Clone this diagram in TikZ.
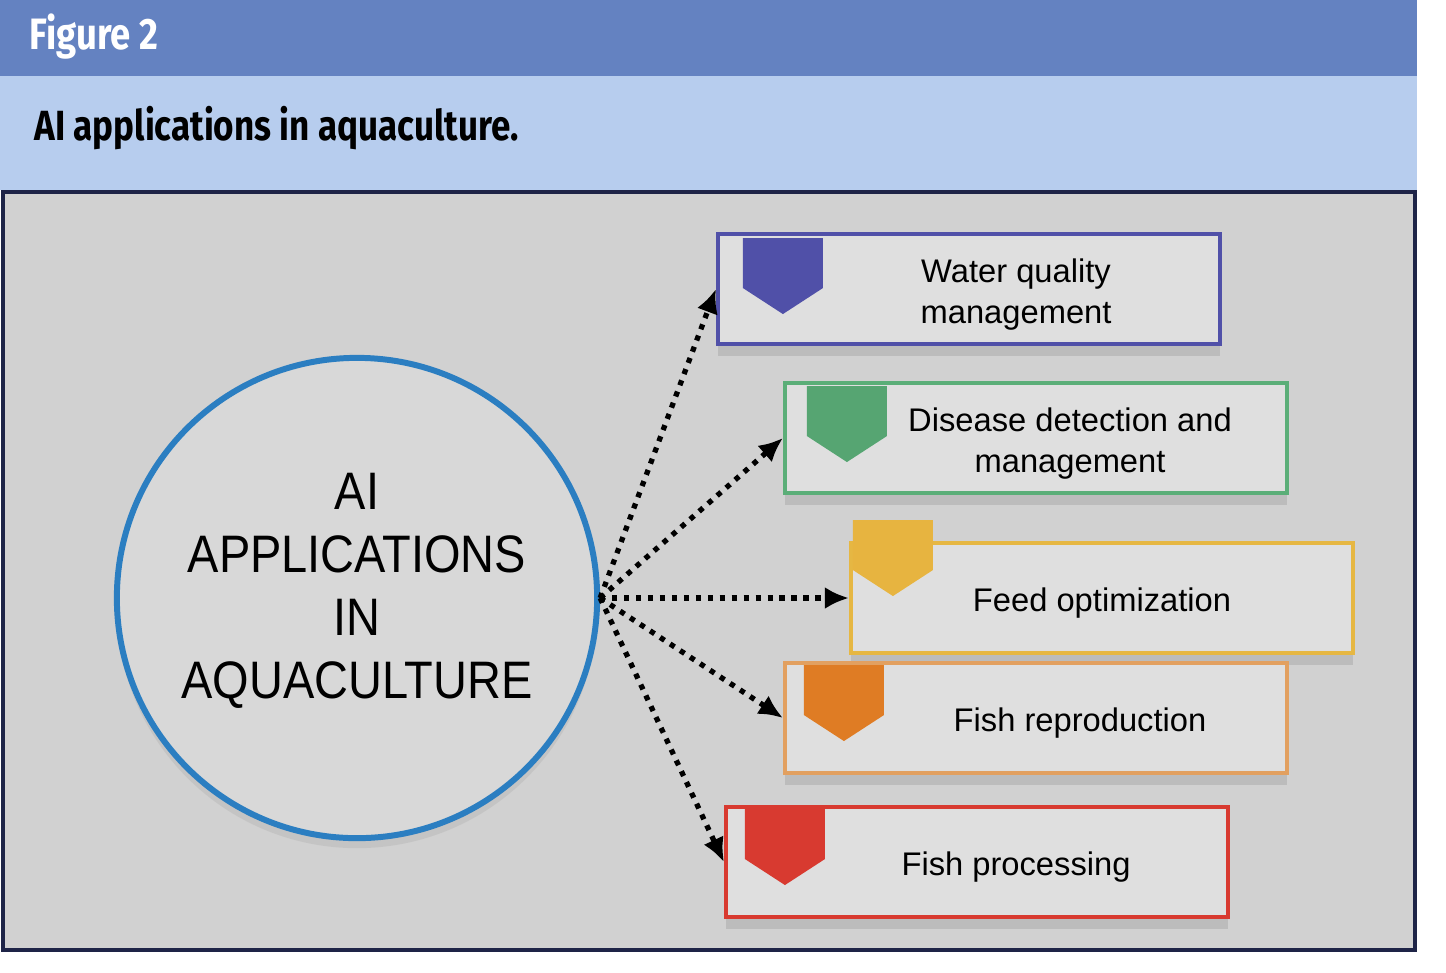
\documentclass[tikz,border=0pt]{standalone}
\usepackage{fontspec}
\setmainfont{Liberation Sans}
\newfontfamily\headfont[FakeStretch=0.83]{Fira Sans}
\newfontfamily\hubfont[FakeStretch=0.89]{Liberation Sans}
\usetikzlibrary{arrows.meta,positioning,shadows}
\definecolor{figbar}{HTML}{6482C1}
\definecolor{capbar}{HTML}{B7CDEE}
\definecolor{panel}{HTML}{D1D1D1}
\definecolor{frame}{HTML}{1E2447}
\definecolor{boxfill}{HTML}{DFDFDF}
\definecolor{hubblue}{HTML}{2B7EC1}
\definecolor{indigo}{HTML}{5050A8}
\definecolor{leaf}{HTML}{5BAE78}
\definecolor{gold}{HTML}{E6B743}
\definecolor{tan}{HTML}{E2A060}
\definecolor{tabor}{HTML}{DF7C24}
\definecolor{scarlet}{HTML}{D83A30}
% pointed tab in the top left corner of a box
\newcommand{\apptab}[4]{%
  \fill[#4] ([shift={(#2,#3)}]#1.north west) -- ++(80,0) -- ++(0,50)
    -- ++(-40,26) -- ++(-40,-26) -- cycle;}

\begin{document}
\begin{tikzpicture}[x=0.01cm,y=-0.01cm,
              app/.style={draw,line width=1.1pt,fill=boxfill,minimum width=5.02cm,
                minimum height=1.1cm,inner sep=0,
                drop shadow={shadow xshift=0mm,shadow yshift=-1.2mm,opacity=.25}},
              lab/.style={font=\fontsize{9.3}{11.4}\selectfont,align=center,yshift=-0.55mm},
              link/.style={line width=1.5pt,dash pattern=on 1.5pt off 1.9pt,
                -{Latex[length=2.4mm,width=2.2mm]}}]
  \useasboundingbox (0,0) rectangle (1446,972);
  % header
  \fill[figbar] (0,0) rectangle (1417,76);
  \fill[capbar] (0,76) rectangle (1417,190);
  \node[anchor=west,text=white,font=\headfont\bfseries\fontsize{12.5}{14}\selectfont] (fig) at (17,37) {Figure 2};
  \node[anchor=west,font=\headfont\bfseries\fontsize{12}{14}\selectfont] (cap) at (22,128) {AI applications in aquaculture.};
  \draw[frame,line width=1.2pt,fill=panel] (3,192) rectangle (1415,950);
  % hub
  \node[circle,draw=hubblue,line width=1.7pt,fill=boxfill!97!black,minimum size=4.8cm,
        drop shadow={shadow xshift=0mm,shadow yshift=-1mm,opacity=.15}] (hub) at (357,598) {};
  \node[align=center,font=\hubfont\fontsize{15}{17.9}\selectfont,yshift=0.7mm] (hubt) at (hub.center)
        {AI\\APPLICATIONS\\IN\\AQUACULTURE};
  % applications
  \node[app,draw=indigo] (wq) at (969,289) {};
  \node[app,draw=leaf] (dd) at (1036,438) {};
  \node[app,draw=gold] (fo) at (1102,598) {};
  \node[app,draw=tan] (fr) at (1036,718) {};
  \node[app,draw=scarlet] (fp) at (977,862) {};
  \apptab{wq}{27}{6}{indigo}
  \apptab{dd}{24}{5}{leaf!95!black}
  \apptab{fo}{4}{-21}{gold!95!orange}
  \apptab{fr}{21}{4}{tabor}
  \apptab{fp}{21}{4}{scarlet}
  \node[lab] (wqt) at ([xshift=4.7mm]wq.center) {Water quality\\management};
  \node[lab] (ddt) at ([xshift=3.4mm]dd.center) {Disease detection and\\management};
  \node[lab] (fot) at ([xshift=0mm]fo.center) {Feed optimization};
  \node[lab] (frt) at ([xshift=4.4mm]fr.center) {Fish reproduction};
  \node[lab] (fpt) at ([xshift=3.9mm]fp.center) {Fish processing};
  % links
  \foreach \t in {wq,dd,fo,fr,fp}
    \draw[link] (hub.east) -- (\t.west);
\end{tikzpicture}
\end{document}
